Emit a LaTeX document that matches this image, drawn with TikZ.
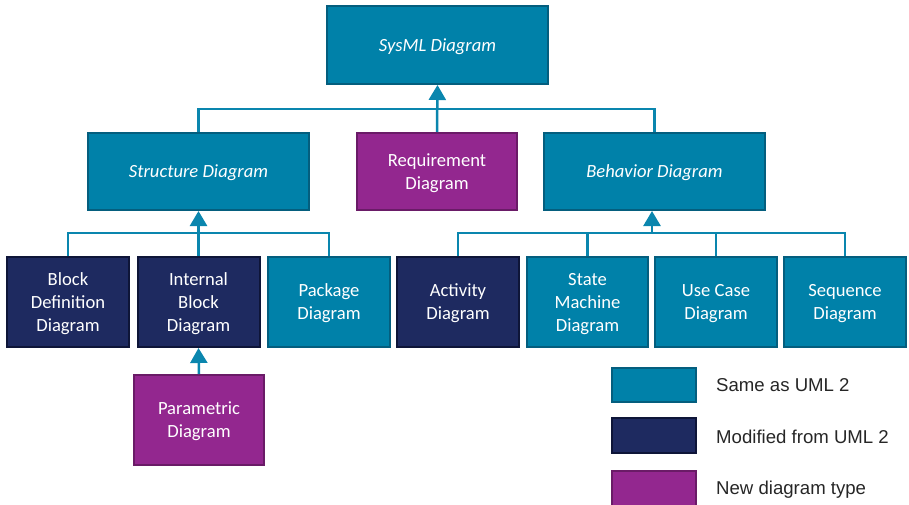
\documentclass[tikz,border=0pt]{standalone}
\usepackage{fontspec}
\setmainfont{Carlito}
\newfontfamily\legendfont{Liberation Sans}
\usetikzlibrary{arrows.meta}

\definecolor{tealfill}{HTML}{0081A9}
\definecolor{tealedge}{HTML}{045E7E}
\definecolor{navyfill}{HTML}{1E2A60}
\definecolor{navyedge}{HTML}{0E1538}
\definecolor{purpfill}{HTML}{93278F}
\definecolor{purpedge}{HTML}{6A1B67}
\definecolor{linkcol}{HTML}{0A86AE}
\definecolor{legtext}{HTML}{262626}

\tikzset{
  box/.style={draw, line width=2pt, text=white, align=center, inner sep=0pt,
    text depth=-1.5pt, font=\fontsize{18.6}{23}\selectfont},
  same/.style={box, fill=tealfill, draw=tealedge},
  modified/.style={box, fill=navyfill, draw=navyedge},
  newtype/.style={box, fill=purpfill, draw=purpedge},
  link/.style={draw=linkcol, line width=2.5pt},
  gen/.style={link, -{Triangle[length=15pt,width=17pt]}},
  legendtext/.style={anchor=west, inner sep=0pt, text=legtext,
    font=\legendfont\fontsize{18.6}{22}\selectfont},
}

\begin{document}
\begin{tikzpicture}[x=1pt, y=-1pt]
\useasboundingbox (0,0) rectangle (909,505);

% top level
\node[same, minimum width=221, minimum height=78] (sysml) at (437.5,45) {\itshape SysML Diagram};

% second level
\node[same, minimum width=221, minimum height=77] (struct) at (198.5,171.5) {\itshape Structure Diagram};
\node[newtype, minimum width=160, minimum height=77] (req) at (437,171.5) {Requirement\\Diagram};
\node[same, minimum width=221, minimum height=77] (beh) at (654.5,171.5) {\itshape Behavior Diagram};

% third level, structure branch
\node[modified, minimum width=122, minimum height=90] (bdd) at (68,302) {Block\\Definition\\Diagram};
\node[modified, minimum width=122, minimum height=90] (ibd) at (198.5,302) {Internal\\Block\\Diagram};
\node[same, minimum width=122, minimum height=90] (pkg) at (329,302) {Package\\Diagram};
\node[newtype, minimum width=130, minimum height=90] (par) at (199,420) {Parametric\\Diagram};

% third level, behavior branch
\node[modified, minimum width=122, minimum height=90] (act) at (458,302) {Activity\\Diagram};
\node[same, minimum width=121, minimum height=90] (stm) at (587.5,302) {State\\Machine\\Diagram};
\node[same, minimum width=122, minimum height=90] (uc) at (716,302) {Use Case\\Diagram};
\node[same, minimum width=122, minimum height=90] (seq) at (845,302) {Sequence\\Diagram};

% junction points of the tree
\coordinate (topbar) at (437.5,109);
\coordinate (sbar) at (198.5,233);
\coordinate (bbar) at (652,233);

% SysML Diagram generalisations
\draw[link] (struct.north) |- (topbar) -| (beh.north);
\draw[gen] (req.north) -- (sysml.south);

% Structure Diagram generalisations
\draw[link] (bdd.north) |- (sbar) -| (pkg.north);
\draw[gen] (ibd.north) -- (struct.south);
\draw[gen] (par.north) -- (ibd.south);

% Behavior Diagram generalisations
\draw[link] (act.north) |- (bbar) -| (seq.north);
\draw[link] (stm.north) -- (stm.north |- bbar);
\draw[link] (uc.north) -- (uc.north |- bbar);
\draw[gen] (bbar) -- (beh.south -| bbar);

% legend
\node[same, minimum width=84, minimum height=34] (legsame) at (654,384.5) {};
\node[modified, minimum width=84, minimum height=35] (legmod) at (654,435.5) {};
\node[newtype, minimum width=84, minimum height=36] (legnew) at (654,489) {};
\node[legendtext] (txsame) at (716,385) {Same as UML 2};
\node[legendtext] (txmod) at (716,437) {Modified from UML 2};
\node[legendtext] (txnew) at (716,490) {New diagram type};
\end{tikzpicture}
\end{document}
